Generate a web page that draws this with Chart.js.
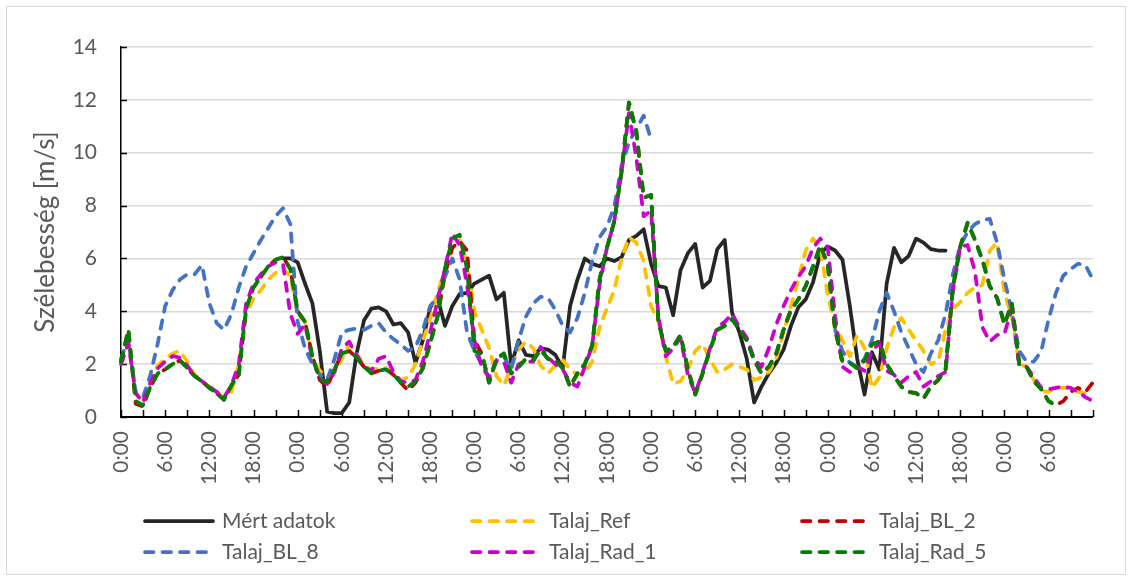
<!DOCTYPE html>
<html>
<head>
<meta charset="utf-8">
<script src="https://cdn.jsdelivr.net/npm/chart.js@4/dist/chart.umd.min.js"></script>
<style>
  html, body { margin: 0; padding: 0; background: #fff; }
  canvas { display: block; }
</style>
</head>
<body>
<canvas id="wind" width="1132" height="581"></canvas>
<script>
// Hourly time axis: 0:00 of day 1 through 12:00 of day 6 (133 hourly steps)
const HOURS = 133;
const hourLabels = Array.from({ length: HOURS }, (_, h) => (h % 24) + ':00');

// Measured wind speed [m/s] (station data starts at 22:00 on day 1)
const mertAdatok = [
  null, null, null, null, null, null, null, null, null, null, null, null,
  null, null, null, null, null, null, null, null, null, null, 6.0, 6.0,
  5.85, 5.05, 4.3, 2.5, 0.2, 0.15, 0.15, 0.55, 2.4, 3.65, 4.1, 4.15,
  4.0, 3.5, 3.55, 3.2, 2.05, 2.9, 4.15, 4.5, 3.45, 4.2, 4.65, 4.7,
  5.05, 5.2, 5.35, 4.45, 4.7, 1.95, 2.9, 2.35, 2.3, 2.6, 2.55, 2.35,
  1.85, 4.2, 5.2, 6.0, 5.8, 5.7, 6.0, 5.9, 6.05, 6.7, 6.85, 7.1,
  5.8, 4.95, 4.9, 3.85, 5.55, 6.2, 6.55, 4.9, 5.15, 6.35, 6.7, 3.95,
  3.2, 2.2, 0.55, 1.15, 1.65, 2.05, 2.55, 3.45, 4.15, 4.45, 5.1, 6.2,
  6.45, 6.3, 5.95, 4.2, 2.2, 0.85, 2.45, 1.8, 5.05, 6.4, 5.85, 6.1,
  6.75, 6.6, 6.35, 6.3, 6.3, null, null, null, null, null, null, null,
  null, null, null, null, null, null, null, null, null, null, null, null,
  null
];

// Model run: reference soil setup
const talajRef = [
  2.0, 2.8, 0.9, 0.55, 1.4, 1.95, 2.2, 2.4, 2.5, 2.1, 1.6, 1.35,
  1.15, 0.95, 0.7, 0.95, 2.0, 3.9, 4.5, 4.8, 5.2, 5.45, 5.65, 5.3,
  3.9, 3.6, 2.2, 1.75, 1.5, 1.7, 2.2, 2.75, 2.4, 1.95, 1.8, 1.85,
  1.85, 1.6, 1.4, 1.5, 2.0, 2.9, 3.7, 4.7, 5.6, 6.4, 6.7, 5.8,
  4.0, 3.3, 2.6, 1.55, 1.2, 1.9, 2.55, 2.85, 2.6, 1.95, 1.65, 1.95,
  2.15, 1.8, 1.6, 1.65, 2.1, 3.4, 4.1, 4.8, 6.0, 6.8, 6.6, 5.9,
  4.2, 3.6, 2.3, 1.25, 1.35, 1.8, 2.5, 2.75, 2.2, 1.7, 1.8, 2.0,
  1.9, 1.8, 1.4, 1.5, 1.7, 2.2, 3.2, 4.2, 5.2, 6.3, 6.75, 6.4,
  4.6, 3.4, 2.9, 2.3, 3.1, 2.6, 1.1, 1.5, 2.6, 3.4, 3.75, 3.3,
  2.9, 2.5, 2.0, 2.1, 3.3, 4.1, 4.35, 4.7, 4.9, 5.0, 6.3, 6.6,
  4.7, 3.8, 2.0, 1.9, 1.4, 1.0, 0.95, 1.15, 1.1, 1.1, 0.95, 0.9,
  0.85
];

// Model run: boundary layer scheme 2
const talajBL2 = [
  2.1, 3.3, 0.5, 0.4, 1.15, 1.65, 1.8, 2.0, 2.15, 1.85, 1.55, 1.35,
  1.1, 0.9, 0.65, 1.2, 1.6, 4.1, 4.9, 5.3, 5.7, 5.95, 6.05, 5.6,
  4.0, 3.6, 2.3, 1.4, 1.15, 1.8, 2.4, 2.5, 2.25, 1.9, 1.65, 1.75,
  1.8, 1.6, 1.3, 1.0, 1.3, 1.85, 2.8, 3.8, 5.4, 6.4, 6.65, 6.3,
  2.9, 2.4, 1.3, 2.2, 2.4, 1.65, 1.9, 2.2, 2.15, 2.55, 2.2, 2.15,
  1.85, 1.15, 1.65, 2.0, 2.7, 5.2, 6.4, 7.4, 9.3, 11.9, 10.8, 8.3,
  8.4, 3.6, 2.5, 2.65, 3.1, 1.8, 0.85, 1.65, 2.55, 3.3, 3.45, 3.7,
  3.3, 2.9, 2.15, 1.65, 1.9, 2.4, 3.3, 4.05, 4.45, 4.95, 5.7, 6.5,
  5.75, 3.3, 2.1, 2.05, 1.85, 2.15, 2.75, 2.85, 2.0, 1.55, 1.15, 0.95,
  0.9, 0.7, 1.15, 1.4, 1.8, 4.9, 6.45, 7.35, 6.7, 5.95, 4.95, 4.5,
  3.5, 4.3, 2.0, 1.9, 1.35, 1.05, 0.6, 0.45, 0.6, 0.95, 1.1, 0.95,
  1.3
];

// Model run: boundary layer scheme 8 (output missing for part of days 4-5)
const talajBL8 = [
  2.2, 3.0, 0.9, 0.75, 1.6, 2.8, 4.2, 4.8, 5.2, 5.4, 5.4, 5.75,
  4.3, 3.55, 3.3, 3.9, 4.9, 5.7, 6.2, 6.7, 7.15, 7.6, 7.9, 7.3,
  3.6, 2.6, 2.0, 1.6, 1.4, 2.2, 3.2, 3.3, 3.35, 3.3, 3.45, 3.55,
  3.2, 2.95, 2.75, 2.5, 2.65, 3.3, 4.2, 4.55, 5.3, 6.0, 5.2, 3.2,
  2.5, 2.0, 1.5, 2.1, 2.3, 1.8, 2.9, 3.8, 4.3, 4.55, 4.5, 4.05,
  3.45, 3.2, 3.75, 4.7, 5.9, 6.8, 7.2, 7.95, 9.5, 10.4, 10.9, 11.4,
  10.5, null, null, null, null, null, null, null, null, null, null, null,
  null, null, null, null, null, null, null, null, null, null, null, null,
  null, 3.3, 2.5, 2.05, 1.9, 2.2, 2.9, 4.0, 4.7, 4.0, 3.2, 2.6,
  2.0, 1.7, 2.4, 2.9, 3.9, 5.4, 6.5, 7.0, 7.3, 7.45, 7.5, 6.6,
  5.2, 4.0, 2.5, 2.1, 2.1, 2.5, 3.7, 4.7, 5.35, 5.6, 5.8, 5.75,
  5.2
];

// Model run: radiation scheme 1
const talajRad1 = [
  2.0, 2.8, 0.9, 0.55, 1.3, 1.85, 2.1, 2.3, 2.25, 1.95, 1.55, 1.35,
  1.15, 0.95, 0.75, 1.2, 2.0, 4.3, 5.05, 5.4, 5.7, 5.85, 5.8, 3.9,
  3.15, 3.5, 2.2, 1.5, 1.25, 1.7, 2.6, 2.85, 2.35, 1.9, 1.75, 2.2,
  2.3, 1.7, 1.35, 1.3, 1.4, 2.1, 3.2, 4.4, 5.6, 6.95, 6.5, 5.0,
  2.9, 1.9, 1.5, 2.15, 2.1, 1.3, 2.0, 2.1, 2.1, 2.65, 2.25, 2.0,
  1.8, 1.3, 1.15, 1.9, 2.7, 5.0, 6.4, 7.4, 9.3, 11.5, 9.8, 7.6,
  7.8, 3.8, 2.3, 2.6, 3.0, 1.6, 0.9, 1.7, 2.6, 3.4, 3.6, 3.9,
  3.4, 3.0, 2.2, 1.9, 2.6, 3.5, 4.2, 4.8, 5.3, 5.7, 6.4, 6.75,
  6.4, 3.8, 1.9, 1.7, 1.9, 1.75, 2.5, 2.8, 1.75, 1.6, 1.3, 1.55,
  1.7, 1.15, 1.35, 1.55, 1.7, 4.8, 6.45, 6.5, 5.5, 3.4, 2.85, 3.1,
  3.15, 4.1, 2.0, 1.9, 1.5, 1.1, 1.05, 1.1, 1.15, 1.1, 0.95, 0.75,
  0.6
];

// Model run: radiation scheme 5
const talajRad5 = [
  2.1, 3.3, 0.6, 0.45, 1.15, 1.65, 1.8, 2.0, 2.15, 1.85, 1.55, 1.35,
  1.1, 0.9, 0.65, 1.2, 1.6, 4.1, 4.9, 5.3, 5.7, 5.95, 6.05, 5.6,
  4.0, 3.6, 2.3, 1.4, 1.35, 1.8, 2.4, 2.5, 2.25, 1.9, 1.65, 1.75,
  1.8, 1.6, 1.3, 1.15, 1.35, 1.85, 2.8, 3.8, 5.6, 6.75, 6.9, 5.6,
  2.5, 2.4, 1.3, 2.2, 2.4, 1.65, 1.9, 2.2, 2.15, 2.55, 2.2, 2.15,
  1.85, 1.15, 1.65, 2.0, 2.7, 5.2, 6.4, 7.4, 9.3, 11.9, 10.8, 8.3,
  8.4, 3.6, 2.5, 2.65, 3.1, 1.8, 0.85, 1.65, 2.55, 3.3, 3.45, 3.7,
  3.3, 2.9, 2.15, 1.65, 1.9, 2.4, 3.3, 4.05, 4.45, 4.95, 5.7, 6.5,
  5.75, 3.3, 2.1, 2.05, 1.85, 2.15, 2.75, 2.85, 2.0, 1.55, 1.15, 0.95,
  0.9, 0.7, 1.15, 1.4, 1.8, 4.9, 6.45, 7.35, 6.7, 5.95, 4.95, 4.5,
  3.5, 4.3, 2.0, 1.9, 1.35, 1.05, 0.6, 0.4, null, null, null, null,
  null
];

const FONT = 'Lato, "Open Sans", "Liberation Sans", sans-serif';
const TEXT = '#595959';
const LINE_W = 3.75;
const DASH = [8.5, 9];

function series(label, data, color, dashed, order) {
  return {
    label, data,
    borderColor: color,
    backgroundColor: color,
    borderWidth: LINE_W,
    borderDash: dashed ? DASH : [],
    borderCapStyle: 'round',
    borderJoinStyle: 'round',
    pointRadius: 0,
    pointHoverRadius: 0,
    tension: 0,
    fill: false,
    spanGaps: false,
    clip: false,
    order
  };
}

// White page with a thin grey frame around the chart
const frame = {
  id: 'frame',
  beforeDraw(chart) {
    const { ctx, width, height } = chart;
    ctx.save();
    ctx.fillStyle = '#fff';
    ctx.fillRect(0, 0, width, height);
    ctx.restore();
  },
  afterDraw(chart) {
    const { ctx } = chart;
    ctx.save();
    ctx.strokeStyle = '#d9d9d9';
    ctx.lineWidth = 1;
    ctx.strokeRect(6.5, 6.5, 1119, 568);
    ctx.restore();
  }
};

// Short inward tick marks: every 3 hours on the time axis, every label on the value axis
const innerTicks = {
  id: 'innerTicks',
  beforeDatasetsDraw(chart) {
    const { ctx, chartArea: a, scales: { x, y } } = chart;
    ctx.save();
    ctx.strokeStyle = '#000';
    ctx.lineWidth = 1.5;
    ctx.beginPath();
    for (let i = 0; i < HOURS; i += 3) {
      const px = Math.round(x.getPixelForValue(i)) + 0.5;
      ctx.moveTo(px, a.bottom);
      ctx.lineTo(px, a.bottom - 7);
    }
    y.ticks.forEach(t => {
      const py = Math.round(y.getPixelForValue(t.value)) + 0.5;
      ctx.moveTo(a.left, py);
      ctx.lineTo(a.left + 6, py);
    });
    ctx.stroke();
    ctx.restore();
  }
};

// Three-column legend under the plot
const gridLegend = {
  id: 'gridLegend',
  afterDraw(chart) {
    const { ctx } = chart;
    const cols = [143, 470, 800];
    const rows = [521, 552];
    const sample = 70;
    ctx.save();
    ctx.font = '21px ' + FONT;
    ctx.textBaseline = 'middle';
    ctx.textAlign = 'left';
    chart.data.datasets.forEach((ds, i) => {
      const x0 = cols[i % 3];
      const y0 = rows[Math.floor(i / 3)];
      ctx.strokeStyle = ds.borderColor;
      ctx.lineWidth = LINE_W;
      ctx.lineCap = 'round';
      ctx.setLineDash(ds.borderDash);
      ctx.beginPath();
      ctx.moveTo(x0 + 2, y0);
      ctx.lineTo(x0 + sample, y0);
      ctx.stroke();
      ctx.setLineDash([]);
      ctx.fillStyle = TEXT;
      ctx.fillText(ds.label, x0 + sample + 9, y0);
    });
    ctx.restore();
  }
};

Chart.defaults.font.family = FONT;
Chart.defaults.color = TEXT;

new Chart(document.getElementById('wind'), {
  type: 'line',
  data: {
    labels: hourLabels,
    datasets: [
      series('Mért adatok', mertAdatok, '#262626', false, 6),
      series('Talaj_Ref', talajRef, '#FFC000', true, 5),
      series('Talaj_BL_2', talajBL2, '#C00000', true, 4),
      series('Talaj_BL_8', talajBL8, '#4472C4', true, 3),
      series('Talaj_Rad_1', talajRad1, '#CC00CC', true, 2),
      series('Talaj_Rad_5', talajRad5, '#008000', true, 1)
    ]
  },
  options: {
    responsive: false,
    animation: false,
    events: [],
    layout: { padding: { left: 0, top: 47, right: 29, bottom: 84 } },
    plugins: {
      legend: { display: false },
      tooltip: { enabled: false },
      title: { display: false }
    },
    scales: {
      x: {
        type: 'category',
        offset: false,
        grid: { display: false, drawTicks: false },
        border: { display: true, color: '#000', width: 2 },
        ticks: {
          autoSkip: false,
          minRotation: 90,
          maxRotation: 90,
          padding: 14,
          color: TEXT,
          font: { size: 21 },
          callback(value, index) {
            return (index % 6 === 0 && index < HOURS - 1) ? hourLabels[index] : '';
          }
        },
        afterFit(scale) { scale.height = 80; }
      },
      y: {
        min: 0,
        max: 14,
        ticks: { stepSize: 2, padding: 24, color: TEXT, font: { size: 21 } },
        grid: { color: '#d9d9d9', lineWidth: 1.5, drawTicks: false },
        border: { display: true, color: '#000', width: 1.5 },
        title: {
          display: true,
          text: 'Szélebesség [m/s]',
          color: TEXT,
          font: { size: 26 },
          padding: { top: 30, bottom: 0 }
        },
        afterFit(scale) { scale.width = 121; }
      }
    }
  },
  plugins: [frame, innerTicks, gridLegend]
});
</script>
</body>
</html>
